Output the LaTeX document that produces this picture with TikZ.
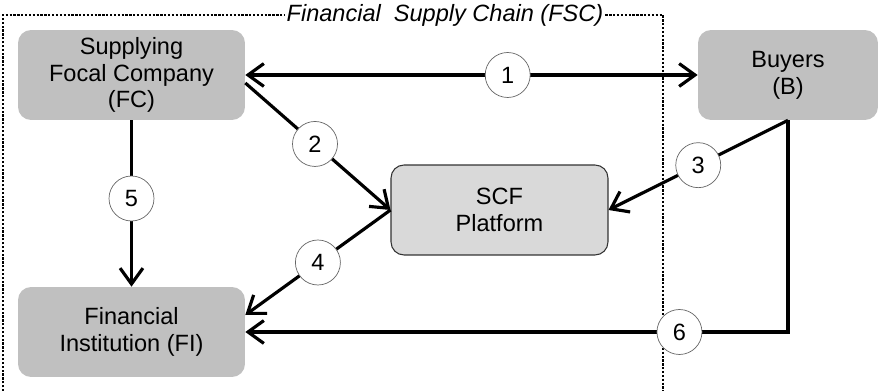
\documentclass[tikz,border=0pt]{standalone}
\usepackage{fontspec}
\setmainfont{Liberation Sans}
\usetikzlibrary{arrows.meta, positioning}

\definecolor{boxgray}{HTML}{C0C0C0}
\definecolor{platgray}{HTML}{D9D9D9}

\tikzset{
    >={Straight Barb[length=9pt,width=13pt,line width=1.8pt]},
    box/.style={fill=boxgray, rounded corners=0.26cm, align=center,
        minimum width=4.54cm, minimum height=1.8cm, inner sep=2pt},
    platform/.style={box, fill=platgray, draw=black!80, line width=0.6pt,
        minimum width=4.34cm},
    numcirc/.style={circle, draw=black!60, line width=0.4pt, fill=white,
        minimum size=0.9cm, inner sep=0pt},
    flow/.style={line width=1.8pt, ->},
    frame/.style={dash pattern=on 1.3pt off 0.9pt, line width=0.6pt}
}

\begin{document}
\begin{tikzpicture}[x=0.02cm, y=-0.02cm, font=\fontsize{13.4}{15.3}\selectfont]
    \useasboundingbox (0,0) rectangle (880,391);

    % FSC frame
    \node[fill=white, inner sep=1pt] (fsc) at (445,15) {\itshape Financial\ \ Supply Chain (FSC)};
    \coordinate (frameBL) at (3,395);
    \coordinate (frameBR) at (663,395);
    \draw[frame] (frameBL) |- (fsc.west);
    \draw[frame] (fsc.east) -| (frameBR);

    % actors
    \node[box] (FC) at (131.5,75) {Supplying\\Focal Company\\(FC)};
    \node[box, minimum width=3.6cm] (B) at (788,75) {Buyers\\(B)};
    \node[platform] (SCF) at (499.5,210) {SCF\\Platform};
    \node[box] (FI) at (131.5,332) {Financial\\Institution (FI)};

    % flows
    \draw[flow, <->] (FC.east) -- node[numcirc, pos=0.58] {1} (B.west);
    \draw[flow] ([yshift=-0.16cm]FC.east) -- node[numcirc, pos=0.48] {2} (SCF.west);
    \draw[flow] (B.south) -- node[numcirc, pos=0.5] {3} (SCF.east);
    \draw[flow] (SCF.west) -- node[numcirc, pos=0.5] {4} ([yshift=0.34cm]FI.east);
    \draw[flow] (FC.south) -- node[numcirc, pos=0.47] {5} (FI.north);
    \draw[flow] (B.south) |- node[numcirc, pos=0.6] {6} (FI.east);
\end{tikzpicture}
\end{document}
